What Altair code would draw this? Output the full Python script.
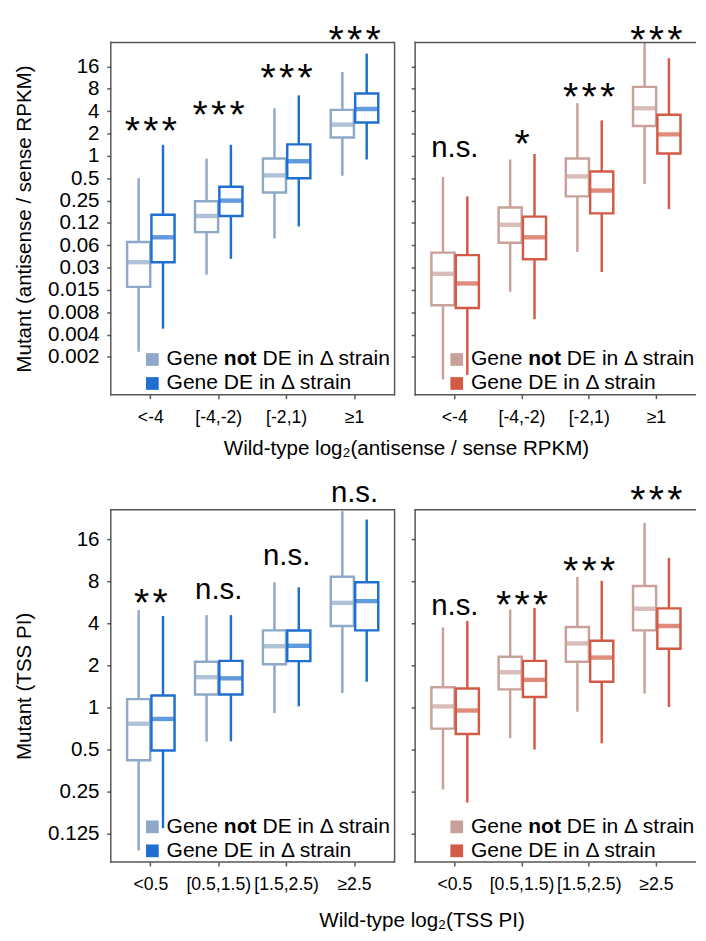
import altair as alt
import pandas as pd

FONT = "Liberation Sans"
FRAME = "#555555"
groups = ["not", "DE"]

top_cats = ["<-4", "[-4,-2)", "[-2,1)", "≥1"]
bot_cats = ["<0.5", "[0.5,1.5)", "[1.5,2.5)", "≥2.5"]

# Box statistics, order: cat1-not, cat1-DE, cat2-not, cat2-DE, ...
tl_lo = [0.0023, 0.0047, 0.025, 0.041, 0.077, 0.112, 0.54, 0.895]
tl_q1 = [0.0172, 0.037, 0.094, 0.155, 0.321, 0.5, 1.77, 2.81]
tl_med = [0.037, 0.080, 0.155, 0.25, 0.547, 0.847, 2.64, 4.29]
tl_q3 = [0.069, 0.161, 0.245, 0.384, 0.92, 1.43, 4.17, 6.92]
tl_hi = [0.50, 1.41, 0.92, 1.41, 4.38, 6.54, 13.45, 23.9]

tr_lo = [0.00097, 0.00112, 0.0148, 0.0063, 0.0508, 0.0272, 0.418, 0.192]
tr_q1 = [0.0097, 0.0089, 0.0675, 0.0406, 0.285, 0.168, 2.53, 1.08]
tr_med = [0.0258, 0.0191, 0.118, 0.080, 0.529, 0.341, 4.38, 1.95]
tr_q3 = [0.0497, 0.046, 0.202, 0.152, 0.92, 0.616, 8.51, 3.58]
tr_hi = [0.52, 0.285, 0.895, 1.06, 5.13, 3.01, 33.1, 20.7]

bl_lo = [0.095, 0.137, 0.57, 0.574, 0.914, 1.02, 1.27, 1.53]
bl_q1 = [0.42, 0.493, 1.24, 1.24, 2.04, 2.15, 3.84, 3.57]
bl_med = [0.766, 0.829, 1.65, 1.62, 2.75, 2.77, 5.62, 5.78]
bl_q3 = [1.15, 1.22, 2.13, 2.16, 3.57, 3.56, 8.63, 7.89]
bl_hi = [4.99, 4.53, 4.59, 4.59, 7.89, 7.26, 25.5, 22.2]

br_lo = [0.259, 0.209, 0.603, 0.5, 0.933, 0.555, 1.26, 1.01]
br_q1 = [0.707, 0.646, 1.35, 1.19, 2.13, 1.53, 3.57, 2.64]
br_med = [1.02, 0.953, 1.79, 1.58, 2.88, 2.28, 5.10, 3.84]
br_q3 = [1.40, 1.37, 2.31, 2.16, 3.78, 3.01, 7.41, 5.13]
br_hi = [3.75, 4.17, 5.03, 5.17, 8.63, 8.08, 21.0, 11.8]

# Significance labels and their heights
tl_sig = ["***", "***", "***", "***"]
tl_sig_y = [2.7, 4.5, 14, 46]
tr_sig = ["n.s.", "*", "***", "***"]
tr_sig_y = [1.27, 1.83, 7.9, 46]
bl_sig = ["**", "n.s.", "n.s.", "n.s."]
bl_sig_y = [6.3, 6.9, 12.2, 34.5]
br_sig = ["n.s.", "***", "***", "***"]
br_sig_y = [5.3, 6.1, 10.7, 34.9]

# Y axis ticks (powers of two) and their printed labels
top_tick_exp = list(range(-9, 5))
top_tick_labels = ["0.002", "0.004", "0.008", "0.015", "0.03", "0.06", "0.12",
                   "0.25", "0.5", "1", "2", "4", "8", "16"]
bot_tick_exp = list(range(-3, 5))
bot_tick_labels = ["0.125", "0.25", "0.5", "1", "2", "4", "8", "16"]

blue = ["#8DA8C8", "#1F6FD0"]
red = ["#C9A19B", "#D35A45"]

legend_not = ["Gene", "not", "DE in Δ strain"]
legend_de = "Gene DE in Δ strain"


def label_expr(exps, labels):
    e = "''"
    for k, lab in zip(exps, labels):
        e = f"round(log(datum.value)/LN2) == {k} ? '{lab}' : ({e})"
    return e


def panel(lo, q1, med, q3, hi, cats, colors, sig, sig_y, dom, exps, labs,
          ytitle, left, width, height=360):
    df = pd.DataFrame({
        "cat": [c for c in cats for _ in groups],
        "grp": groups * len(cats),
        "lo": lo, "q1": q1, "med": med, "q3": q3, "hi": hi,
    })
    ann = pd.DataFrame({"cat": cats, "y": sig_y, "label": sig})

    xaxis = alt.Axis(title=None, labelAngle=0)
    if left:
        yaxis = alt.Axis(values=[2 ** k for k in exps], labelExpr=label_expr(exps, labs),
                         title=ytitle)
    else:
        yaxis = alt.Axis(values=[2 ** k for k in exps], labels=False, title=None)

    xenc = alt.X("cat:N", sort=cats,
                 scale=alt.Scale(paddingInner=0, paddingOuter=0.09), axis=xaxis)
    xoff = alt.XOffset("grp:N", sort=groups,
                       scale=alt.Scale(domain=groups, paddingInner=0.05, paddingOuter=0.42))
    yscale = alt.Scale(type="log", base=2, domain=[2 ** dom[0], 2 ** dom[1]], nice=False)
    col = alt.Color("grp:N", scale=alt.Scale(domain=groups, range=colors), legend=None)

    def yy(field):
        return alt.Y(field, scale=yscale, axis=yaxis)

    base = alt.Chart(df)
    whisk = base.mark_rule(strokeWidth=2.5).encode(
        x=xenc, xOffset=xoff, y=yy("lo:Q"), y2="hi:Q", color=col)
    box = base.mark_bar(fill="white", strokeWidth=2.5).encode(
        x=xenc, xOffset=xoff, y=yy("q1:Q"), y2="q3:Q",
        stroke=alt.Stroke("grp:N", scale=alt.Scale(domain=groups, range=colors), legend=None))
    medl = base.mark_tick(thickness=4.5, size=23.5).encode(
        x=xenc, xOffset=xoff, y=yy("med:Q"), color=col)

    abase = alt.Chart(ann)
    stars = abase.transform_filter("datum.label != 'n.s.'").transform_calculate(
        disp="join(split(datum.label, ''), '\u200a')"
    ).mark_text(font=FONT, fontSize=40, baseline="middle", dy=9, color="black").encode(
        x=alt.X("cat:N", sort=cats), y=yy("y:Q"), text="disp:N")
    ns = abase.transform_filter("datum.label == 'n.s.'").mark_text(
        font=FONT, fontSize=30, baseline="middle", color="black").encode(
        x=alt.X("cat:N", sort=cats), y=yy("y:Q"), text="label:N")

    one = alt.Chart(pd.DataFrame({"k": [0]}))
    fs = 21.5
    sq1 = one.mark_square(size=169, opacity=1).encode(
        x=alt.value(42.5), y=alt.value(324), color=alt.value(colors[0]))
    sq2 = one.mark_square(size=169, opacity=1).encode(
        x=alt.value(42.5), y=alt.value(348.5), color=alt.value(colors[1]))
    tx = 57
    t1 = one.mark_text(font=FONT, fontSize=fs, align="left", baseline="middle").encode(
        x=alt.value(tx), y=alt.value(324), text=alt.value(legend_not[0]))
    t2 = one.mark_text(font=FONT, fontSize=fs, align="left", baseline="middle",
                       fontWeight="bold").encode(
        x=alt.value(tx + 2.724 * fs), y=alt.value(324), text=alt.value(legend_not[1]))
    t3 = one.mark_text(font=FONT, fontSize=fs, align="left", baseline="middle").encode(
        x=alt.value(tx + (2.724 + 1.555 + 0.278) * fs), y=alt.value(324),
        text=alt.value(legend_not[2]))
    t4 = one.mark_text(font=FONT, fontSize=fs, align="left", baseline="middle").encode(
        x=alt.value(tx), y=alt.value(348.5), text=alt.value(legend_de))

    # panel frame: left, top, bottom always; right side only on the left panels
    fr = dict(color=FRAME, strokeWidth=1.5)
    f_left = one.mark_rule(**fr).encode(x=alt.value(0), y=alt.value(-0.75),
                                        y2=alt.value(height + 0.75))
    f_top = one.mark_rule(**fr).encode(x=alt.value(-0.75), x2=alt.value(width),
                                       y=alt.value(0))
    f_bot = one.mark_rule(**fr).encode(x=alt.value(-0.75), x2=alt.value(width),
                                       y=alt.value(height))
    layers = [whisk, box, medl, stars, ns, sq1, sq2, t1, t2, t3, t4, f_left, f_top, f_bot]
    if left:
        f_right = one.mark_rule(**fr).encode(x=alt.value(width), y=alt.value(-0.75),
                                             y2=alt.value(height + 0.75))
        layers.append(f_right)
    return alt.layer(*layers).properties(width=width, height=height)


top_dom = (-10.69, 5.08)
bot_dom = (-3.674, 4.705)

tl = panel(tl_lo, tl_q1, tl_med, tl_q3, tl_hi, top_cats, blue, tl_sig, tl_sig_y, top_dom,
           top_tick_exp, top_tick_labels, "Mutant (antisense / sense RPKM)", True, 290)
tr = panel(tr_lo, tr_q1, tr_med, tr_q3, tr_hi, top_cats, red, tr_sig, tr_sig_y, top_dom,
           top_tick_exp, top_tick_labels, None, False, 287)
bl = panel(bl_lo, bl_q1, bl_med, bl_q3, bl_hi, bot_cats, blue, bl_sig, bl_sig_y, bot_dom,
           bot_tick_exp, bot_tick_labels, "Mutant (TSS PI)", True, 290)
br = panel(br_lo, br_q1, br_med, br_q3, br_hi, bot_cats, red, br_sig, br_sig_y, bot_dom,
           bot_tick_exp, bot_tick_labels, None, False, 287)

row1 = alt.hconcat(tl, tr, spacing=13).resolve_scale(
    color="independent", stroke="independent").properties(
    title=alt.TitleParams(text="Wild-type log₂(antisense / sense RPKM)", orient="bottom",
                          anchor="middle", fontSize=21, fontWeight="normal", font=FONT,
                          color="black", dx=52, offset=12.5))
row2 = alt.hconcat(bl, br, spacing=13).resolve_scale(
    color="independent", stroke="independent").properties(
    title=alt.TitleParams(text="Wild-type log₂(TSS PI)", orient="bottom",
                          anchor="middle", fontSize=21, fontWeight="normal", font=FONT,
                          color="black", dx=68, offset=16.5))

chart = alt.vconcat(row1, row2, spacing=18.5).resolve_scale(
    color="independent", stroke="independent"
).properties(
    padding={"left": 5, "top": 3, "right": 0, "bottom": 0}
).configure(font=FONT).configure_view(
    stroke="transparent"
).configure_axis(
    labelFont=FONT, titleFont=FONT, labelColor="black", titleColor="black",
    tickColor=FRAME, tickWidth=1.5, tickSize=4, domain=False, grid=False,
    titleFontWeight="normal"
).configure_axisY(
    labelFontSize=21, titleFontSize=21, titlePadding=13, labelPadding=8
).configure_axisX(
    labelFontSize=18, labelPadding=10
)

chart.save("out.html", embed_options={"renderer": "svg", "actions": False})
